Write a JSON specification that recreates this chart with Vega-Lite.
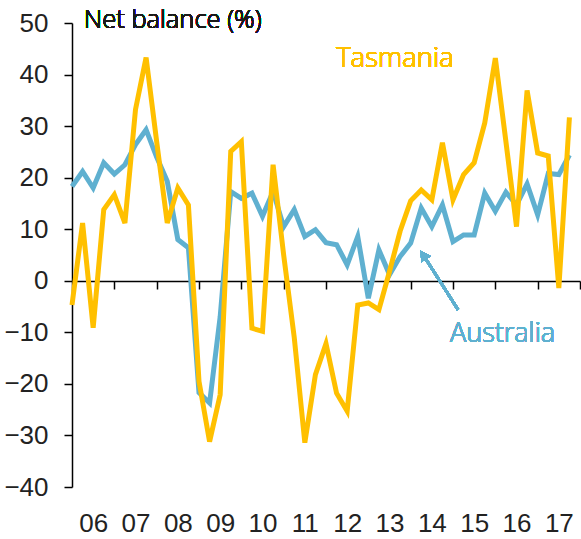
{
  "$schema": "https://vega.github.io/schema/vega-lite/v6.json",
  "width": 508,
  "height": 464,
  "autosize": "none",
  "padding": {"left": 72, "top": 23, "right": 1, "bottom": 52},
  "background": "white",
  "config": {"view": {"stroke": null}, "axis": {"grid": false}},
  "data": {
    "values": [
      {"t": 2006.00, "aus": 18.3, "tas": -4.7},
      {"t": 2006.25, "aus": 21.2, "tas": 11.2},
      {"t": 2006.50, "aus": 18.0, "tas": -9.1},
      {"t": 2006.75, "aus": 22.9, "tas": 13.8},
      {"t": 2007.00, "aus": 20.7, "tas": 16.7},
      {"t": 2007.25, "aus": 22.5, "tas": 11.2},
      {"t": 2007.50, "aus": 26.4, "tas": 33.2},
      {"t": 2007.75, "aus": 29.3, "tas": 43.3},
      {"t": 2008.00, "aus": 24.0, "tas": 27.0},
      {"t": 2008.25, "aus": 19.3, "tas": 11.2},
      {"t": 2008.50, "aus": 8.0, "tas": 18.0},
      {"t": 2008.75, "aus": 6.4, "tas": 14.7},
      {"t": 2009.00, "aus": -21.7, "tas": -19.5},
      {"t": 2009.25, "aus": -23.7, "tas": -31.2},
      {"t": 2009.50, "aus": -7.0, "tas": -22.1},
      {"t": 2009.75, "aus": 17.3, "tas": 25.1},
      {"t": 2010.00, "aus": 16.0, "tas": 27.0},
      {"t": 2010.25, "aus": 17.0, "tas": -9.2},
      {"t": 2010.50, "aus": 12.5, "tas": -9.8},
      {"t": 2010.75, "aus": 17.3, "tas": 22.5},
      {"t": 2011.00, "aus": 10.5, "tas": 5.0},
      {"t": 2011.25, "aus": 13.8, "tas": -11.0},
      {"t": 2011.50, "aus": 8.6, "tas": -31.4},
      {"t": 2011.75, "aus": 9.9, "tas": -18.2},
      {"t": 2012.00, "aus": 7.4, "tas": -12.2},
      {"t": 2012.25, "aus": 7.0, "tas": -21.8},
      {"t": 2012.50, "aus": 3.1, "tas": -25.3},
      {"t": 2012.75, "aus": 8.6, "tas": -4.7},
      {"t": 2013.00, "aus": -3.4, "tas": -4.3},
      {"t": 2013.25, "aus": 6.0, "tas": -5.6},
      {"t": 2013.50, "aus": 1.2, "tas": 1.8},
      {"t": 2013.75, "aus": 4.7, "tas": 9.6},
      {"t": 2014.00, "aus": 7.3, "tas": 15.5},
      {"t": 2014.25, "aus": 14.1, "tas": 17.6},
      {"t": 2014.50, "aus": 10.5, "tas": 15.7},
      {"t": 2014.75, "aus": 14.7, "tas": 26.8},
      {"t": 2015.00, "aus": 7.6, "tas": 15.7},
      {"t": 2015.25, "aus": 8.9, "tas": 20.6},
      {"t": 2015.50, "aus": 8.9, "tas": 22.9},
      {"t": 2015.75, "aus": 17.0, "tas": 30.6},
      {"t": 2016.00, "aus": 13.5, "tas": 43.2},
      {"t": 2016.25, "aus": 17.2, "tas": 27.0},
      {"t": 2016.50, "aus": 14.7, "tas": 10.5},
      {"t": 2016.75, "aus": 18.8, "tas": 36.9},
      {"t": 2017.00, "aus": 12.8, "tas": 24.8},
      {"t": 2017.25, "aus": 20.8, "tas": 24.2},
      {"t": 2017.50, "aus": 20.6, "tas": -1.4},
      {"t": 2017.75, "aus": 24.4, "tas": 31.7}
    ]
  },
  "layer": [
    {
      "mark": {"type": "line", "color": "#5FB0D0", "strokeWidth": 5},
      "encoding": {
        "x": {
          "field": "t", "type": "quantitative",
          "scale": {"domain": [2006, 2018], "nice": false, "zero": false},
          "axis": {
            "title": null,
            "values": [2007, 2008, 2009, 2010, 2011, 2012, 2013, 2014, 2015, 2016, 2017, 2018],
            "offset": -206,
            "tickSize": 8, "tickColor": "#000", "tickWidth": 1.5,
            "domainColor": "#000", "domainWidth": 1.5,
            "labelOffset": -21.17,
            "labelPadding": 234,
            "labelBaseline": "middle",
            "labelExpr": "slice(toString(datum.value - 1), 2)",
            "labelFont": "Liberation Sans", "labelFontSize": 26, "labelColor": "#222",
            "labelFlush": false, "labelOverlap": false, "labelBound": false
          }
        },
        "y": {
          "field": "aus", "type": "quantitative",
          "scale": {"domain": [-40, 50], "nice": false},
          "axis": {
            "title": null,
            "values": [-40, -30, -20, -10, 0, 10, 20, 30, 40, 50],
            "tickSize": 8, "tickColor": "#000", "tickWidth": 1.5,
            "domainColor": "#000", "domainWidth": 1.5,
            "labelPadding": 16,
            "labelFont": "Liberation Sans", "labelFontSize": 26, "labelColor": "#222"
          }
        }
      }
    },
    {
      "mark": {"type": "line", "color": "#FFC000", "strokeWidth": 5},
      "encoding": {
        "x": {"field": "t", "type": "quantitative"},
        "y": {"field": "tas", "type": "quantitative"}
      }
    },
    {
      "mark": {"type": "rule", "color": "#5FB0D0", "strokeWidth": 2.5},
      "encoding": {
        "x": {"datum": 2015.12},
        "y": {"datum": -5.62},
        "x2": {"datum": 2014.33},
        "y2": {"datum": 4.6}
      }
    },
    {
      "mark": {"type": "point", "shape": "triangle-up", "filled": true, "color": "#5FB0D0", "opacity": 1, "size": 130, "angle": 328},
      "encoding": {
        "x": {"datum": 2014.3},
        "y": {"datum": 5.0}
      }
    },
    {
      "mark": {"type": "text", "text": "Net balance (%)", "align": "left", "baseline": "alphabetic", "font": "Open Sans", "fontSize": 25.5, "fontWeight": 300, "fill": "#1a1a1a"},
      "encoding": {"x": {"datum": 2006.28}, "y": {"datum": 49.07}}
    },
    {
      "mark": {"type": "text", "text": "Tasmania", "align": "left", "baseline": "alphabetic", "font": "Open Sans", "fontSize": 27.5, "fontWeight": 300, "fill": "#FFC000"},
      "encoding": {"x": {"datum": 2012.24}, "y": {"datum": 41.37}}
    },
    {
      "mark": {"type": "text", "text": "Australia", "align": "left", "baseline": "alphabetic", "font": "Open Sans", "fontSize": 27, "fontWeight": 300, "fill": "#5FB0D0"},
      "encoding": {"x": {"datum": 2014.93}, "y": {"datum": -11.97}}
    }
  ]
}
